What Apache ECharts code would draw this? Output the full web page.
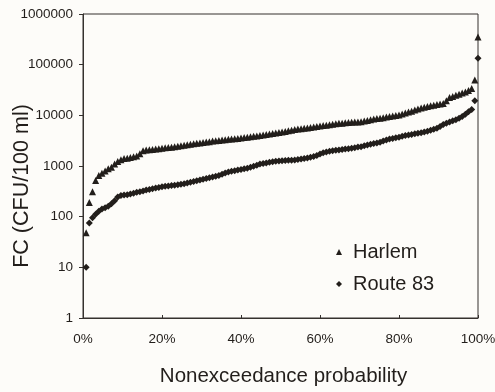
<!DOCTYPE html>
<html>
<head>
<meta charset="utf-8">
<script src="https://cdn.jsdelivr.net/npm/echarts@6/dist/echarts.min.js"></script>
<style>
  html, body { margin: 0; padding: 0; background: #fdfcf9; }
  #chart { width: 495px; height: 392px; }
</style>
</head>
<body>
<div id="chart"></div>
<script>
// Sorted fecal coliform concentrations (CFU/100 ml), one value per sample
const harlemFC = [
  48, 190, 310, 520, 650, 720, 800, 880, 950, 1100,
  1220, 1330, 1400, 1430, 1470, 1520, 1580, 1750, 2000, 2060,
  2100, 2120, 2160, 2200, 2240, 2280, 2320, 2350, 2400, 2450,
  2500, 2560, 2620, 2680, 2740, 2800, 2850, 2900, 2960, 3020,
  3100, 3150, 3200, 3250, 3300, 3360, 3400, 3450, 3500, 3580,
  3640, 3700, 3780, 3850, 3920, 4000, 4100, 4200, 4300, 4400,
  4500, 4600, 4700, 4820, 4950, 5100, 5250, 5350, 5450, 5550,
  5650, 5750, 5880, 6000, 6150, 6280, 6400, 6500, 6650, 6800,
  6950, 7000, 7100, 7200, 7300, 7350, 7420, 7500, 7700, 7950,
  8200, 8450, 8650, 8800, 9000, 9250, 9450, 9650, 9900, 10200,
  10600, 11100, 11600, 12100, 12700, 13300, 13900, 14500, 15000, 15500,
  15900, 16300, 16700, 17200, 19500, 22500, 23500, 25000, 26200, 27500,
  29000, 31000, 34000, 50000, 350000
];

const route83FC = [
  10, 75, 95, 112, 128, 142, 150, 160, 180, 205,
  245, 262, 268, 272, 280, 290, 302, 312, 322, 335,
  345, 355, 368, 378, 390, 398, 405, 412, 418, 425,
  435, 448, 462, 478, 495, 512, 528, 545, 565, 585,
  605, 625, 650, 685, 725, 765, 790, 810, 835, 855,
  880, 905, 940, 990, 1040, 1090, 1120, 1150, 1180, 1210,
  1235, 1255, 1270, 1285, 1295, 1305, 1315, 1340, 1370, 1400,
  1440, 1480, 1540, 1620, 1720, 1820, 1900, 1950, 2000, 2040,
  2080, 2120, 2160, 2200, 2250, 2300, 2360, 2410, 2500, 2600,
  2700, 2780, 2850, 2950, 3100, 3250, 3400, 3500, 3600, 3700,
  3850, 3980, 4100, 4200, 4320, 4450, 4550, 4680, 4850, 5050,
  5300, 5550, 6000, 6600, 7000, 7400, 7800, 8150, 8800, 9500,
  10500, 11800, 13000, 19500, 134000
];

const seriesNames = ['Harlem', 'Route 83'];
const xTicks = [0, 0.2, 0.4, 0.6, 0.8, 1];
const yTicks = [1, 10, 100, 1000, 10000, 100000, 1000000];

// Nonexceedance probability of the i-th smallest of n values: i / n
function toPoints(values) {
  const n = values.length;
  return values.map((v, i) => [(i + 1) / n, v]);
}

const ink = '#221e1b';
const axisInk = '#35312e';
const font = 'Liberation Sans, Arial, sans-serif';

const chart = echarts.init(document.getElementById('chart'), null, { renderer: 'canvas' });
chart.setOption({
  backgroundColor: '#fdfcf9',
  animation: false,
  grid: {
    left: 83, right: 17, top: 14, bottom: 74,
    outerBoundsMode: 'none',
    containLabel: false,
    show: true, borderColor: axisInk, borderWidth: 1
  },
  legend: {
    orient: 'vertical',
    left: 331, top: 237,
    itemWidth: 6, itemHeight: 6, itemGap: 12,
    textStyle: { fontFamily: font, fontSize: 20, color: ink, padding: [0, 0, 0, 6] },
    data: seriesNames
  },
  xAxis: {
    type: 'value',
    min: xTicks[0], max: xTicks[xTicks.length - 1], interval: 0.2,
    name: 'Nonexceedance probability',
    nameLocation: 'middle', nameGap: 48,
    nameMoveOverlap: false,
    nameTextStyle: { fontFamily: font, fontSize: 20.5, color: ink, padding: [0, 0, 0, 6] },
    axisLine: { lineStyle: { color: axisInk, width: 1 } },
    axisTick: { inside: true, length: 3, lineStyle: { color: axisInk } },
    axisLabel: {
      fontFamily: font, fontSize: 13.5, color: ink, margin: 14,
      formatter: v => Math.round(v * 100) + '%'
    },
    splitLine: { show: false }
  },
  yAxis: {
    type: 'log', logBase: 10,
    min: yTicks[0], max: yTicks[yTicks.length - 1],
    name: 'FC (CFU/100 ml)',
    nameLocation: 'middle', nameGap: 50,
    nameMoveOverlap: false,
    nameTextStyle: { fontFamily: font, fontSize: 21.5, color: ink, padding: [0, 40, 0, 0] },
    axisLine: { lineStyle: { color: axisInk, width: 1 } },
    axisTick: { inside: false, length: 4, lineStyle: { color: axisInk } },
    minorTick: { show: false },
    axisLabel: {
      fontFamily: font, fontSize: 13.5, color: ink, margin: 10,
      formatter: v => String(Math.round(v))
    },
    splitLine: { show: false }
  },
  series: [
    {
      name: seriesNames[0],
      type: 'scatter',
      symbol: 'triangle',
      symbolSize: 7,
      itemStyle: { color: ink, opacity: 1 },
      data: toPoints(harlemFC)
    },
    {
      name: seriesNames[1],
      type: 'scatter',
      symbol: 'diamond',
      symbolSize: 7,
      itemStyle: { color: ink, opacity: 1 },
      data: toPoints(route83FC)
    }
  ]
});
</script>
</body>
</html>
